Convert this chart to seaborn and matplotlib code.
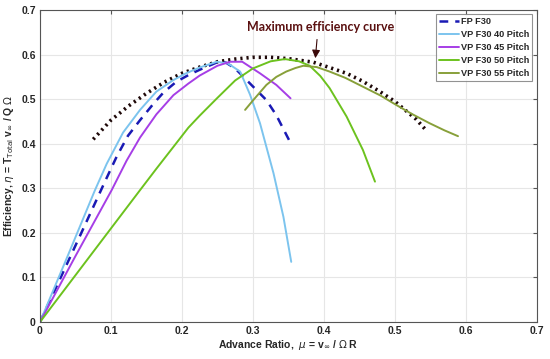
import numpy as np
import pandas as pd
import seaborn as sns
import matplotlib.pyplot as plt

fp_mu = [0.0, 0.035, 0.06, 0.0915, 0.108, 0.124, 0.141, 0.16, 0.174, 0.192, 0.209, 0.225, 0.25, 0.262, 0.275, 0.296, 0.319, 0.333, 0.352]
fp_eta = [0.0, 0.12, 0.206, 0.315, 0.371, 0.418, 0.453, 0.49, 0.515, 0.539, 0.554, 0.566, 0.583, 0.582, 0.569, 0.535, 0.498, 0.464, 0.405]

p40_mu = [0.0, 0.04, 0.0775, 0.094, 0.117, 0.141, 0.164, 0.188, 0.207, 0.225, 0.249, 0.265, 0.282, 0.296, 0.31, 0.329, 0.343, 0.354]
p40_eta = [0.0, 0.152, 0.296, 0.355, 0.425, 0.476, 0.517, 0.543, 0.559, 0.571, 0.584, 0.58, 0.562, 0.51, 0.446, 0.334, 0.236, 0.135]

p45_mu = [0.0, 0.05, 0.101, 0.122, 0.141, 0.164, 0.188, 0.209, 0.225, 0.25, 0.268, 0.285, 0.31, 0.333, 0.353]
p45_eta = [0.0, 0.148, 0.296, 0.362, 0.414, 0.466, 0.509, 0.535, 0.553, 0.575, 0.584, 0.584, 0.558, 0.532, 0.502]

p50_mu = [0.0, 0.05, 0.1, 0.141, 0.164, 0.188, 0.209, 0.225, 0.25, 0.275, 0.3, 0.325, 0.345, 0.365, 0.38, 0.395, 0.408, 0.432, 0.455, 0.472]
p50_eta = [0.0, 0.105, 0.21, 0.296, 0.344, 0.393, 0.436, 0.463, 0.503, 0.542, 0.569, 0.585, 0.59, 0.585, 0.575, 0.552, 0.525, 0.461, 0.386, 0.315]

p55_mu = [0.289, 0.30, 0.319, 0.333, 0.347, 0.36, 0.371, 0.39, 0.408, 0.43, 0.455, 0.48, 0.502, 0.525, 0.549, 0.57, 0.589]
p55_eta = [0.476, 0.497, 0.532, 0.55, 0.562, 0.57, 0.575, 0.572, 0.562, 0.548, 0.528, 0.508, 0.487, 0.466, 0.446, 0.43, 0.417]

max_mu = [0.075, 0.1, 0.125, 0.15, 0.175, 0.2, 0.225, 0.25, 0.275, 0.3, 0.325, 0.35, 0.385, 0.41, 0.432, 0.455, 0.479, 0.5, 0.512, 0.53, 0.542]
max_eta = [0.41, 0.453, 0.485, 0.513, 0.538, 0.558, 0.572, 0.584, 0.59, 0.594, 0.594, 0.591, 0.583, 0.57, 0.558, 0.54, 0.517, 0.495, 0.479, 0.455, 0.434]

sns.set_style('whitegrid')
plt.rcParams['font.family'] = ['Liberation Sans', 'DejaVu Sans']
plt.rcParams['mathtext.fontset'] = 'dejavusans'

fig = plt.figure(figsize=(5.5, 3.59), dpi=100)
ax = fig.add_axes([0.0727, 0.103, 0.9033, 0.869])

sns.lineplot(x=max_mu, y=max_eta, ax=ax, color='#1e0808', linestyle=(0, (0.6, 1.1)),
             linewidth=2.6, legend=False, sort=False)
sns.lineplot(x=fp_mu, y=fp_eta, ax=ax, color='#1a1ab4', linestyle=(0, (3.5, 2.8)),
             linewidth=1.8, label='FP F30', sort=False)
sns.lineplot(x=p40_mu, y=p40_eta, ax=ax, color='#7cc4ee', linewidth=1.4,
             label='VP F30 40 Pitch', sort=False)
sns.lineplot(x=p45_mu, y=p45_eta, ax=ax, color='#a63ee6', linewidth=1.4,
             label='VP F30 45 Pitch', sort=False)
sns.lineplot(x=p50_mu, y=p50_eta, ax=ax, color='#6cc21e', linewidth=1.4,
             label='VP F30 50 Pitch', sort=False)
sns.lineplot(x=p55_mu, y=p55_eta, ax=ax, color='#88a03a', linewidth=1.4,
             label='VP F30 55 Pitch', sort=False)

ax.set_xlim(0, 0.7)
ax.set_ylim(0, 0.7)
ticks = [0, 0.1, 0.2, 0.3, 0.4, 0.5, 0.6, 0.7]
labels = ['0', '0.1', '0.2', '0.3', '0.4', '0.5', '0.6', '0.7']
ax.set_xticks(ticks)
ax.set_yticks(ticks)
ax.set_xticklabels(labels, fontsize=7.5, fontweight='bold', color='#262626')
ax.set_yticklabels(labels, fontsize=7.5, fontweight='bold', color='#262626')
ax.tick_params(direction='in', length=3, color='#555555', top=True, right=True, pad=3)
ax.grid(True, color='#e6e6e6', linewidth=0.8)
for sp in ax.spines.values():
    sp.set_color('#555555')
    sp.set_linewidth(0.8)

ax.set_xlabel(r'Advance Ratio,  $\mu$ = v$_{\infty}$ / $\Omega$ R', fontsize=7.5,
              fontweight='bold', color='#262626', labelpad=1)
ax.set_ylabel(r'Efficiency, $\eta$ = T$_{\mathrm{Total}}$ v$_{\infty}$ / Q $\Omega$', fontsize=7.5,
              fontweight='bold', color='#262626', labelpad=4)

ax.annotate('Maximum efficiency curve', xy=(0.388, 0.592), xytext=(0.2915, 0.661),
            fontsize=9, fontweight='bold', color='#5a1010', ha='left', va='center',
            family=['Lato', 'DejaVu Sans'],
            arrowprops=dict(arrowstyle='-|>', color='#3a0808', lw=0.8, mutation_scale=12,
                            shrinkA=2, shrinkB=0, relpos=(0.48, 0.0)))

leg = ax.legend(loc='upper right', bbox_to_anchor=(0.99, 0.987), fontsize=6.6, frameon=True,
                fancybox=False, handlelength=2.2, handletextpad=0.2, labelspacing=0.45,
                borderpad=0.3, borderaxespad=0.0)
leg.get_frame().set_edgecolor('#777777')
leg.get_frame().set_linewidth(0.8)
for t in leg.get_texts():
    t.set_fontweight('bold')
    t.set_color('#262626')

fig.savefig('out.png', dpi=100)
